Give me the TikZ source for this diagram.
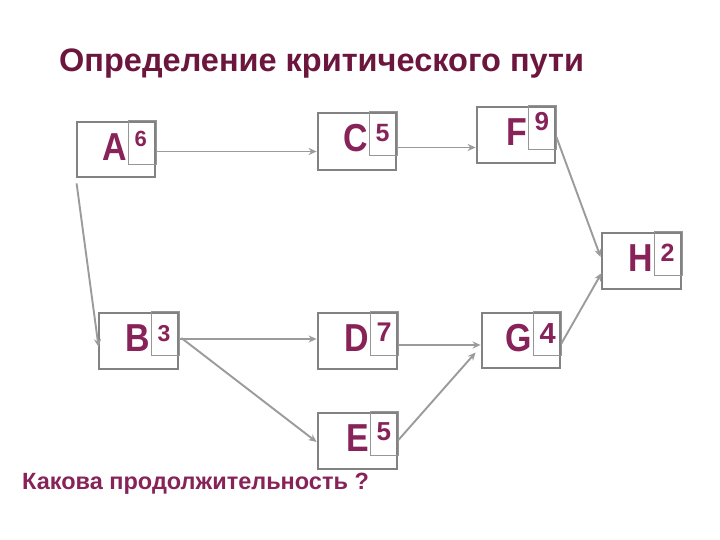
\documentclass[tikz,border=0pt]{standalone}
\usepackage{fontspec}
\setmainfont{Liberation Sans}
\newfontfamily\letterfont[FakeStretch=0.87]{Liberation Sans}
\usetikzlibrary{arrows.meta,calc}
\definecolor{plum}{RGB}{135,35,88}
\definecolor{titleplum}{RGB}{108,22,62}
\definecolor{boxgray}{RGB}{130,130,130}
\definecolor{innergray}{RGB}{150,150,150}
\definecolor{arrgray}{RGB}{155,155,155}
\tikzset{
  taskbox/.style={draw=boxgray, line width=2.8pt, rectangle, inner sep=0pt},
  innerbox/.style={draw=innergray, line width=0.9pt},
  letter/.style={text=plum, font=\letterfont\bfseries\fontsize{39}{40}\selectfont, inner sep=0pt, anchor=base east},
  num/.style={text=plum, inner sep=0pt, anchor=base west},
  arr/.style={draw=arrgray, line width=1.9pt, -{Stealth[length=8pt,width=7pt]}},
}
\newcommand{\tbox}[8]{% name, left, top, right, bottom, num, numsize, numbase
  \node[taskbox, minimum width=#4-#2, minimum height=#5-#3] (#1) at ({(#2+#4)/2},{(#3+#5)/2}) {};
  \draw[innerbox] ($(#1.north east)+(-28,0)$) rectangle ($(#1.north east)+(0,44)$);
  \node[letter] (#1l) at ($(#1.north east)+(-29,40)$) {\csname L#1\endcsname};
  \node[num, font=\bfseries\fontsize{#7}{#7}\selectfont] (#1n) at ($(#1.north east)+(-22,#8)$) {#6};
}
\def\LA{A}\def\LB{B}\def\LC{C}\def\LD{D}\def\LE{E}\def\LF{F}\def\LG{G}\def\LH{H}
\begin{document}
\begin{tikzpicture}[x=1pt,y=-1pt]
\useasboundingbox[fill=white] (0,0) rectangle (720,540);
\node[text=titleplum, font=\bfseries\fontsize{32.5}{34}\selectfont, anchor=base west, inner sep=0pt] (title) at (59,72) {Определение критического пути};
\tbox{A}{77}{122}{155}{177}{6}{22}{26}
\tbox{C}{318}{113}{396}{170}{5}{25}{30}
\tbox{F}{477}{107}{555}{163}{9}{26}{25}
\tbox{H}{602}{233}{681}{289}{2}{25}{30}
\tbox{B}{99}{313}{178}{369}{3}{23}{30}
\tbox{D}{318}{313}{397}{369}{7}{27}{30}
\tbox{E}{318}{413}{397}{469}{5}{26}{29}
\tbox{G}{482}{313}{560}{368}{4}{29}{32}
\draw[arr] ($(A.east)+(0,2)$) -- ($(A.east -| C.west)+(0,2)$);
\draw[arr] ($(C.east)+(0,6)$) -- ($(C.east -| F.west)+(0,6)$);
\draw[arr] ($(F.east)+(0,2)$) -- ($(H.west)+(0,-4)$);
\draw[arr] ($(A.south west)+(1,5)$) -- ($(B.west)+(1,6)$);
\draw[arr] ($(B.east)+(0,-2)$) -- ($(B.east -| D.west)+(0,-2)$);
\draw[arr] ($(B.east)+(2,-3)$) -- ($(E.west)+(0,1)$);
\draw[arr] ($(D.east)+(0,4)$) -- ($(D.east -| G.west)+(0,4)$);
\draw[arr] ($(E.east)+(0,-1)$) -- ($(G.west)+(-5,12)$);
\draw[arr] ($(G.east)+(0,3)$) -- ($(H.west)+(1,12)$);
\node[text=plum, font=\bfseries\fontsize{23.5}{25}\selectfont, anchor=base west, inner sep=0pt] (q) at (22,489) {Какова продолжительность ?};
\end{tikzpicture}
\end{document}
